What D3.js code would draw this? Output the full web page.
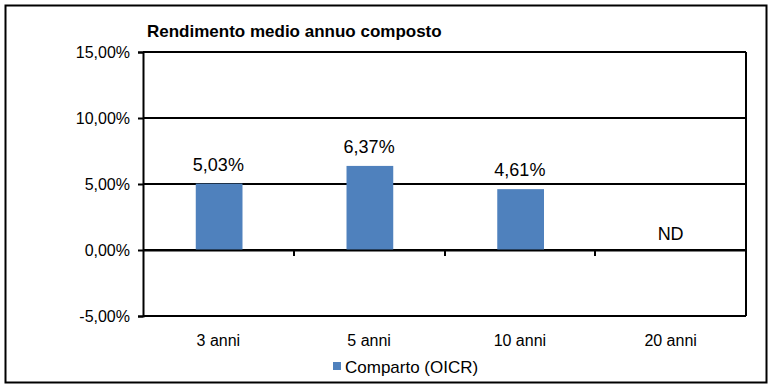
<!DOCTYPE html>
<html>
<head>
<meta charset="utf-8">
<script src="https://cdn.jsdelivr.net/npm/d3@7"></script>
<style>
  body { margin: 0; background: #fff; }
  text { font-family: "Liberation Sans", Arial, sans-serif; fill: #000; }
</style>
</head>
<body>
<svg id="chart" width="775" height="391"></svg>
<script>
// data
var categories = ["3 anni", "5 anni", "10 anni", "20 anni"];
var values = [5.03, 6.37, 4.61, null];
var yTicks = [-5, 0, 5, 10, 15];
var seriesName = "Comparto (OICR)";
var title = "Rendimento medio annuo composto";

var svg = d3.select("#chart");
var plot = {left: 143, right: 746, top: 52, bottom: 316};
var fmt = function(v){ return v.toFixed(2).replace(".", ",") + "%"; };

// outer frame
svg.append("rect")
  .attr("x", 5.5).attr("y", 5.5)
  .attr("width", 761).attr("height", 377)
  .attr("fill", "#fff").attr("stroke", "#000").attr("stroke-width", 2);

svg.append("text")
  .attr("x", 147).attr("y", 37)
  .style("font-weight", "bold").style("font-size", "17px")
  .text(title);

var x = d3.scaleBand().domain(categories).range([plot.left, plot.right]);
var y = d3.scaleLinear().domain([-5, 15]).range([plot.bottom, plot.top]);

// gridlines
svg.append("g").selectAll("line")
  .data(yTicks)
  .enter().append("line")
  .attr("x1", plot.left).attr("x2", plot.right)
  .attr("y1", function(d){ return Math.round(y(d)); })
  .attr("y2", function(d){ return Math.round(y(d)); })
  .attr("stroke", "#000").attr("stroke-width", 2);

// right border
svg.append("line")
  .attr("x1", plot.right).attr("x2", plot.right)
  .attr("y1", plot.top).attr("y2", plot.bottom)
  .attr("stroke", "#000").attr("stroke-width", 2);

// y axis
var yAxis = svg.append("g")
  .attr("transform", "translate(" + plot.left + ",0)")
  .call(d3.axisLeft(y).tickValues(yTicks).tickFormat(fmt).tickSize(5).tickPadding(8));
yAxis.select(".domain").attr("stroke-width", 2);
yAxis.selectAll(".tick line").attr("stroke-width", 2);
yAxis.selectAll("text").style("font-size", "16px").attr("fill", "#000")
  .style("font-family", "'Liberation Sans', Arial, sans-serif");

// bars
svg.append("g").selectAll("rect")
  .data(values.map(function(v, i){ return {cat: categories[i], v: v}; }).filter(function(d){ return d.v != null; }))
  .enter().append("rect")
  .attr("x", function(d){ return x(d.cat) + x.bandwidth() * 0.35; })
  .attr("width", x.bandwidth() * 0.31)
  .attr("y", function(d){ return y(d.v); })
  .attr("height", function(d){ return y(0) - y(d.v); })
  .attr("fill", "#4F81BD");

// zero axis with category ticks
var xAxis = svg.append("g")
  .attr("transform", "translate(0," + Math.round(y(0)) + ")")
  .call(d3.axisBottom(x).tickSize(0).tickFormat(""));
xAxis.select(".domain").attr("stroke-width", 2);
svg.append("g").selectAll("line")
  .data(categories.slice(1))
  .enter().append("line")
  .attr("x1", function(d){ return Math.round(x(d)); })
  .attr("x2", function(d){ return Math.round(x(d)); })
  .attr("y1", y(0)).attr("y2", y(0) + 6)
  .attr("stroke", "#000").attr("stroke-width", 2);

// category labels
svg.append("g").selectAll("text")
  .data(categories)
  .enter().append("text")
  .attr("x", function(d){ return x(d) + x.bandwidth() / 2; })
  .attr("y", 346)
  .attr("text-anchor", "middle")
  .style("font-size", "16px")
  .text(function(d){ return d; });

// value labels
svg.append("g").selectAll("text")
  .data(values.map(function(v, i){ return {cat: categories[i], v: v}; }))
  .enter().append("text")
  .attr("x", function(d){ return x(d.cat) + x.bandwidth() / 2; })
  .attr("y", function(d){ return d.v == null ? y(0) - 10 : y(d.v) - 13; })
  .attr("text-anchor", "middle")
  .style("font-size", "18px")
  .text(function(d){ return d.v == null ? "ND" : fmt(d.v); });

// legend
svg.append("rect")
  .attr("x", 333).attr("y", 362).attr("width", 8).attr("height", 8)
  .attr("fill", "#4F81BD");
svg.append("text")
  .attr("x", 345).attr("y", 373)
  .style("font-size", "17px")
  .text(seriesName);
</script>
</body>
</html>
